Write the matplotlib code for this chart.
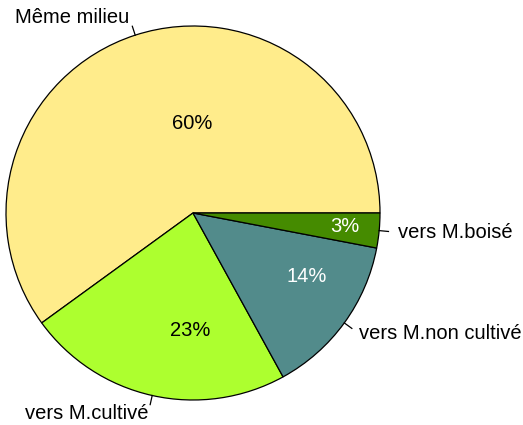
import numpy as np
import matplotlib
matplotlib.use('Agg')
from matplotlib import pyplot as plt
from matplotlib.patches import Wedge

labels = ['Même milieu', 'vers M.cultivé', 'vers M.non cultivé', 'vers M.boisé']
values = [60, 23, 14, 3]
pct_text = ['60%', '23%', '14%', '3%']
colors = ['#FFEC8B', '#ADFF2F', '#528B8B', '#458B00']
pct_colors = ['black', 'black', 'white', 'white']
pct_pos = [(-0.005, 0.48), (-0.016, -0.63), (0.61, -0.34), (0.81, -0.07)]

plt.rcParams['font.family'] = ['Liberation Sans', 'DejaVu Sans']

fig = plt.figure(figsize=(5.23, 4.25), dpi=100)
ax = fig.add_axes([0, 0, 1, 1])
ax.set_xlim(-193 / 187, 330 / 187)
ax.set_ylim(-212 / 187, 213 / 187)
ax.set_aspect('equal')
ax.axis('off')

total = float(sum(values))
start = 0.0
for lab, v, c, pt, pc, pp in zip(labels, values, colors, pct_text, pct_colors, pct_pos):
    span = 360.0 * v / total
    ax.add_patch(Wedge((0, 0), 1, start, start + span, facecolor=c,
                       edgecolor='black', linewidth=0.9))
    mid = np.radians(start + span / 2)
    cx, cy = np.cos(mid), np.sin(mid)
    ax.plot([cx, 1.05 * cx], [cy, 1.05 * cy], color='black', linewidth=0.9)
    ax.text(1.1 * cx, 1.1 * cy, lab, ha='left' if cx > 0 else 'right',
            va='center', fontsize=14.5, color='black')
    ax.text(pp[0], pp[1], pt, ha='center', va='center', fontsize=14.5, color=pc)
    start += span

fig.savefig('out.png', dpi=100)
